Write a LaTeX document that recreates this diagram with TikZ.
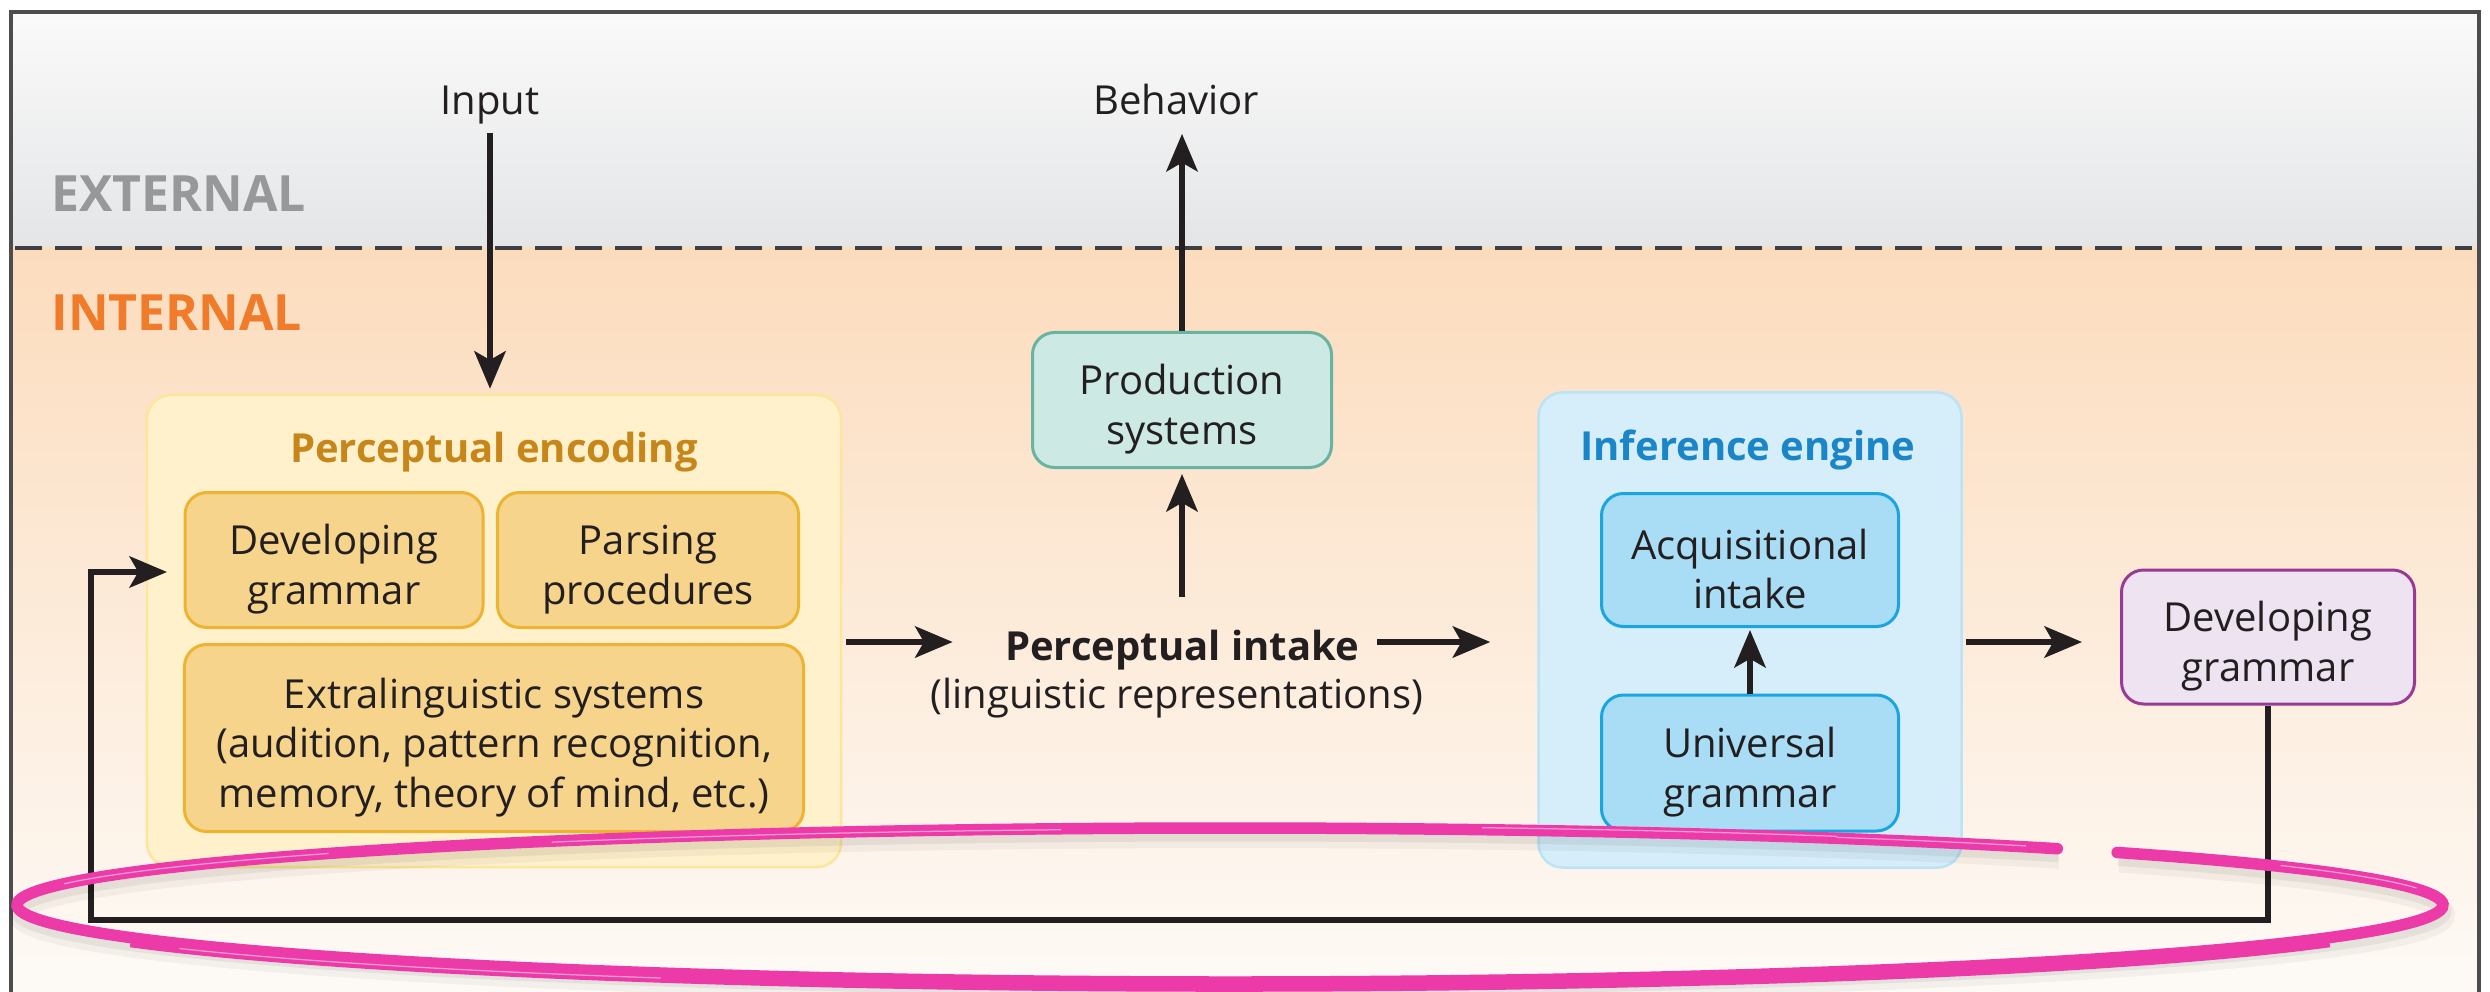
\documentclass[tikz,border=0pt]{standalone}
\usepackage{fontspec}
\setmainfont{Open Sans}
\usetikzlibrary{arrows.meta,calc}

\definecolor{ink}{HTML}{231F20}
\definecolor{framegray}{HTML}{4D4D4F}
\definecolor{dashgray}{HTML}{3F3F41}
\definecolor{extTop}{HTML}{FAFAFA}
\definecolor{extBot}{HTML}{E4E5E7}
\definecolor{intTop}{HTML}{FCDCBD}
\definecolor{intBot}{HTML}{FDFAF6}
\definecolor{extText}{HTML}{97989A}
\definecolor{intText}{HTML}{F07B2B}
\definecolor{peFill}{HTML}{FFF1CB}
\definecolor{peLine}{HTML}{FCE59C}
\definecolor{peTitle}{HTML}{C68619}
\definecolor{peBoxFill}{HTML}{F6D48B}
\definecolor{peBoxLine}{HTML}{EDB434}
\definecolor{prodFill}{HTML}{CDE9E3}
\definecolor{prodLine}{HTML}{6AB3A3}
\definecolor{ieFill}{HTML}{D6EEFA}
\definecolor{ieLine}{HTML}{BCE2F6}
\definecolor{ieTitle}{HTML}{1A86C8}
\definecolor{ieBoxFill}{HTML}{A9DDF5}
\definecolor{ieBoxLine}{HTML}{1AA5E0}
\definecolor{dgFill}{HTML}{EDE3F1}
\definecolor{dgLine}{HTML}{9A3A97}
\definecolor{marker}{HTML}{EC3AA8}

% taller first line, so box text sits a little low as in the print layout
\newcommand\topstrut{\rule{0pt}{19.5pt}}

% elliptical arc of the marker loop: centre, start angle, end angle
\newcommand\loopArc[3]{([shift={(#1)}]#2:1213 and 77)
  arc[start angle=#2, end angle=#3, x radius=1213, y radius=77]}

\begin{document}
\begin{tikzpicture}[x=0.4pt,y=-0.4pt,
  every node/.style={font=\fontsize{16}{19.8}\selectfont, text=ink, inner sep=0pt},
  zone/.style={font=\fontsize{20}{24}\selectfont\bfseries, anchor=base west},
  title/.style={font=\fontsize{16}{19.8}\selectfont\bfseries, anchor=base},
  group/.style={rounded corners=9.6pt, line width=1pt},
  box/.style={rounded corners=8.8pt, line width=1.2pt, align=center},
  conn/.style={draw=ink, line width=2.3pt, line join=miter,
    -{Stealth[length=15pt, width=12.5pt, inset=3.5pt]}},
  streak/.style={white, opacity=0.5, line width=0.5pt}]

\useasboundingbox (0,0) rectangle (2490,992);
\fill[white] (0,0) rectangle (2490,992);

% background zones
\shade[top color=extTop, bottom color=extBot] (11,12) rectangle (2479,248);
\shade[top color=intTop, bottom color=intBot] (11,248) rectangle (2479,992);
\draw[framegray, line width=1.6pt] (11,1000) -- (11,12) -- (2479,12) -- (2479,1000);
\draw[dashgray, line width=1.4pt, dash pattern=on 10.8pt off 5.2pt] (15,248) -- (2472,248);

\node[zone, text=extText] (extlbl) at (51,212) {EXTERNAL};
\node[zone, text=intText] (intlbl) at (51,330) {INTERNAL};

\node[anchor=base] (input) at (490,115) {Input};
\node[anchor=base] (behavior) at (1176,115) {Behavior};

% perceptual encoding
\node[group, fill=peFill, draw=peLine, minimum width=277.6pt, minimum height=188.8pt] (pe) at (494,631) {};
\node[title, text=peTitle] (petitle) at (494,462) {Perceptual encoding};
\node[box, fill=peBoxFill, draw=peBoxLine, minimum width=119.2pt, minimum height=54pt] (dgA) at (334,560) {\topstrut Developing\\grammar};
\node[box, fill=peBoxFill, draw=peBoxLine, minimum width=120.4pt, minimum height=54pt] (pp) at (648,560) {\topstrut Parsing\\procedures};
\node[box, fill=peBoxFill, draw=peBoxLine, minimum width=247.6pt, minimum height=74.8pt] (ext) at (494,738) {\topstrut Extralinguistic systems\\(audition, pattern recognition,\\memory, theory of mind, etc.)};

% production and intake
\node[box, fill=prodFill, draw=prodLine, minimum width=119.6pt, minimum height=54pt] (prod) at (1182,400) {\topstrut Production\\systems};
\node[title] (intake) at (1182,660) {Perceptual intake};
\node[anchor=base] (intakenote) at (1177,708) {(linguistic representations)};

% inference engine
\node[group, fill=ieFill, draw=ieLine, minimum width=169.2pt, minimum height=190pt] (ie) at (1750,630) {};
\node[title, text=ieTitle] (ietitle) at (1748,460) {Inference engine};
\node[box, fill=ieBoxFill, draw=ieBoxLine, minimum width=118.8pt, minimum height=53.2pt] (ai) at (1750,560) {\topstrut Acquisitional\\intake};
\node[box, fill=ieBoxFill, draw=ieBoxLine, minimum width=118.8pt, minimum height=54.4pt] (ug) at (1750,763) {\topstrut Universal\\grammar};

\node[box, fill=dgFill, draw=dgLine, minimum width=117.2pt, minimum height=53.6pt] (dgB) at (2268,637) {\topstrut Developing\\grammar};

% connectors
\coordinate (flow) at (0,642);
\coordinate (fbcorner) at (91,920);
\coordinate (fbin) at (167,572);

\draw[conn, shorten <=3.2pt, shorten >=2pt] (input.south) -- (input.south |- pe.north);
\draw[conn, shorten >=7.2pt] (prod.north) -- (prod.north |- behavior.south);
\draw[conn, shorten <=1.6pt, shorten >=20.8pt] (pe.east |- flow) -- (intake.west |- flow);
\draw[conn, shorten <=7.2pt, shorten >=18.8pt] (intake.east |- flow) -- (ie.west |- flow);
\draw[conn, shorten <=12.8pt, shorten >=2pt] (intake.north) -- (prod.south);
\draw[conn, shorten >=0.8pt] (ug.north) -- (ai.south);
\draw[conn, shorten <=1.2pt, shorten >=15.2pt] (ie.east |- flow) -- (dgB.west |- flow);
\draw[conn] (dgB.south) |- (fbcorner) |- (fbin);

% marker loop: soft shadow, brush stroke, dry-brush streaks
\draw[black, opacity=0.04, line width=8pt] \loopArc{1232,915}{-43}{313};
\draw[black, opacity=0.06, line width=6pt] \loopArc{1231,911}{-43}{313};
\draw[marker, line width=4.6pt, line cap=round] \loopArc{1230,905}{-43}{313};
\draw[marker, line width=4.6pt] \loopArc{1230,909}{25}{155};
\draw[streak] \loopArc{1230,905}{196}{222};
\draw[streak] \loopArc{1230,906}{236}{262};
\draw[streak] \loopArc{1230,903}{282}{300};
\draw[streak] \loopArc{1230,910}{118}{150};
\draw[streak] \loopArc{1230,904}{-30}{-12};
\draw[streak] \loopArc{1230,904}{300}{311};
\end{tikzpicture}
\end{document}
